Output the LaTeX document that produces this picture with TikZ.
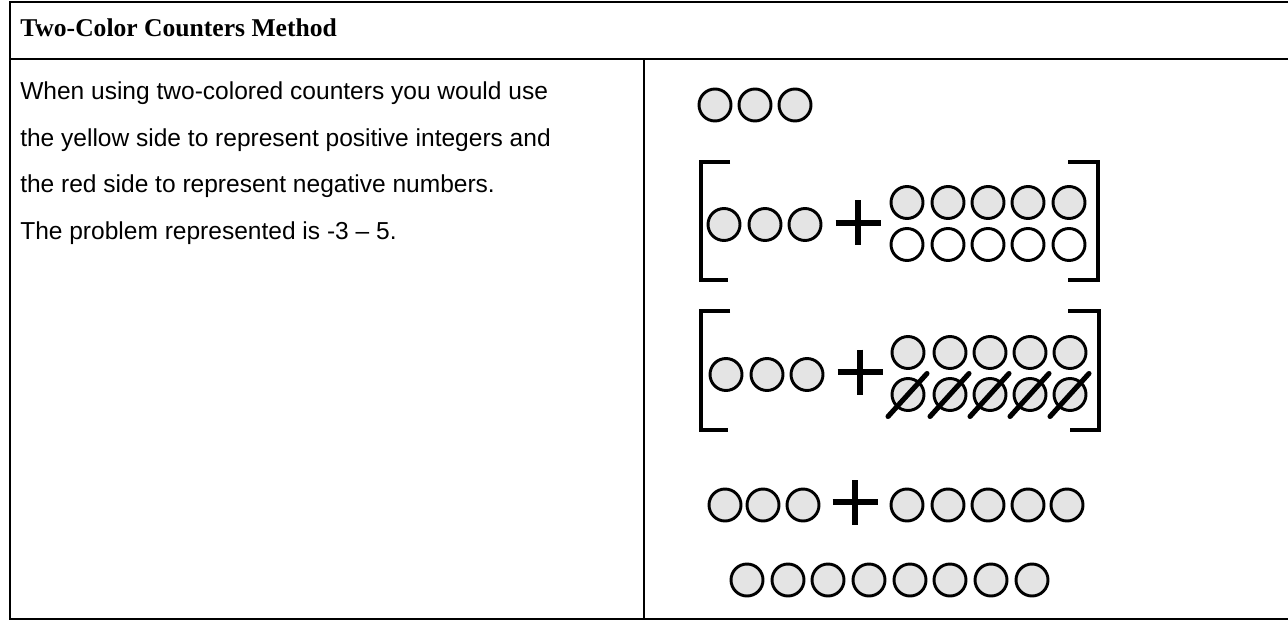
\documentclass[tikz,border=0pt]{standalone}
\usepackage{fontspec}
\setmainfont{Liberation Serif}
\newfontfamily\arialf{Liberation Sans}
\usetikzlibrary{calc}
\definecolor{cfill}{HTML}{E4E4E4}
\tikzset{
  frame/.style={line width=1.9pt, black},
  ctr/.style={circle, draw=black, line width=2.2pt, minimum size=24pt, inner sep=0pt, fill=cfill},
  ctrw/.style={ctr, fill=white},
  plusline/.style={line width=3.8pt, black},
  brk/.style={line width=3.4pt, black},
  slash/.style={line width=3.8pt, black, line cap=round},
  head/.style={anchor=base west, inner sep=0pt, font=\fontsize{19.2pt}{23pt}\selectfont\bfseries},
  body/.style={anchor=base west, inner sep=0pt, font=\arialf\fontsize{18.4pt}{22pt}\selectfont},
}
\begin{document}
\begin{tikzpicture}[x=0.75pt,y=-0.75pt]
\useasboundingbox (0,0) rectangle (1288,620);
% table frame
\draw[frame] (1288,2) -- (10,2) -- (10,619) -- (1288,619);
\draw[frame] (10,59) -- (1288,59);
\draw[frame] (644,59) -- (644,619);
% texts
\node[head] (title) at (20,37) {Two-Color Counters Method};
\node[body] (t1) at (20,100) {When using two-colored counters you would use};
\node[body] (t2) at (20,146.5) {the yellow side to represent positive integers and};
\node[body] (t3) at (20,193) {the red side to represent negative numbers.};
\node[body] (t4) at (20,239.5) {The problem represented is -3 \textendash{} 5.};
% row A
\foreach \x [count=\i] in {715,755,795} \node[ctr] (a\i) at (\x,105) {};
% row B
\foreach \x [count=\i] in {724,765,805} \node[ctr] (bl\i) at (\x,224.5) {};
\foreach \x [count=\i] in {907,948,988,1028,1069} {
  \node[ctr] (bt\i) at (\x,202.5) {};
  \node[ctrw] (bb\i) at (\x,244.5) {};
}
\draw[plusline] (858,200.5) -- (858,245.5) (835.5,223) -- (880.5,223);
\draw[brk] (730,162) -- (701,162) -- (701,280) -- (728,280);
\draw[brk] (1068,162) -- (1098,162) -- (1098,280) -- (1068,280);
% row C
\foreach \x [count=\i] in {726,767,807} \node[ctr] (cl\i) at (\x,374.5) {};
\foreach \x [count=\i] in {908,950,990,1030,1070} {
  \node[ctr] (ct\i) at (\x,352.5) {};
  \node[ctr] (cb\i) at (\x,394.5) {};
  \draw[slash] ($(cb\i.center)+(-20,22)$) -- ($(cb\i.center)+(19,-21)$);
}
\draw[plusline] (860,349.5) -- (860,394.5) (837.5,372) -- (882.5,372);
\draw[brk] (730,311) -- (701,311) -- (701,430) -- (728,430);
\draw[brk] (1068,311) -- (1099,311) -- (1099,430) -- (1070,430);
% row D
\foreach \x [count=\i] in {725,763,803} \node[ctr] (dl\i) at (\x,505) {};
\draw[plusline] (855,480) -- (855,525) (832.5,502) -- (877.5,502);
\foreach \x [count=\i] in {907,948,988,1028,1067} \node[ctr] (dr\i) at (\x,505) {};
% row E
\foreach \x [count=\i] in {747,788,828,869,910,950,991,1032} \node[ctr] (e\i) at (\x,580) {};
\end{tikzpicture}
\end{document}
